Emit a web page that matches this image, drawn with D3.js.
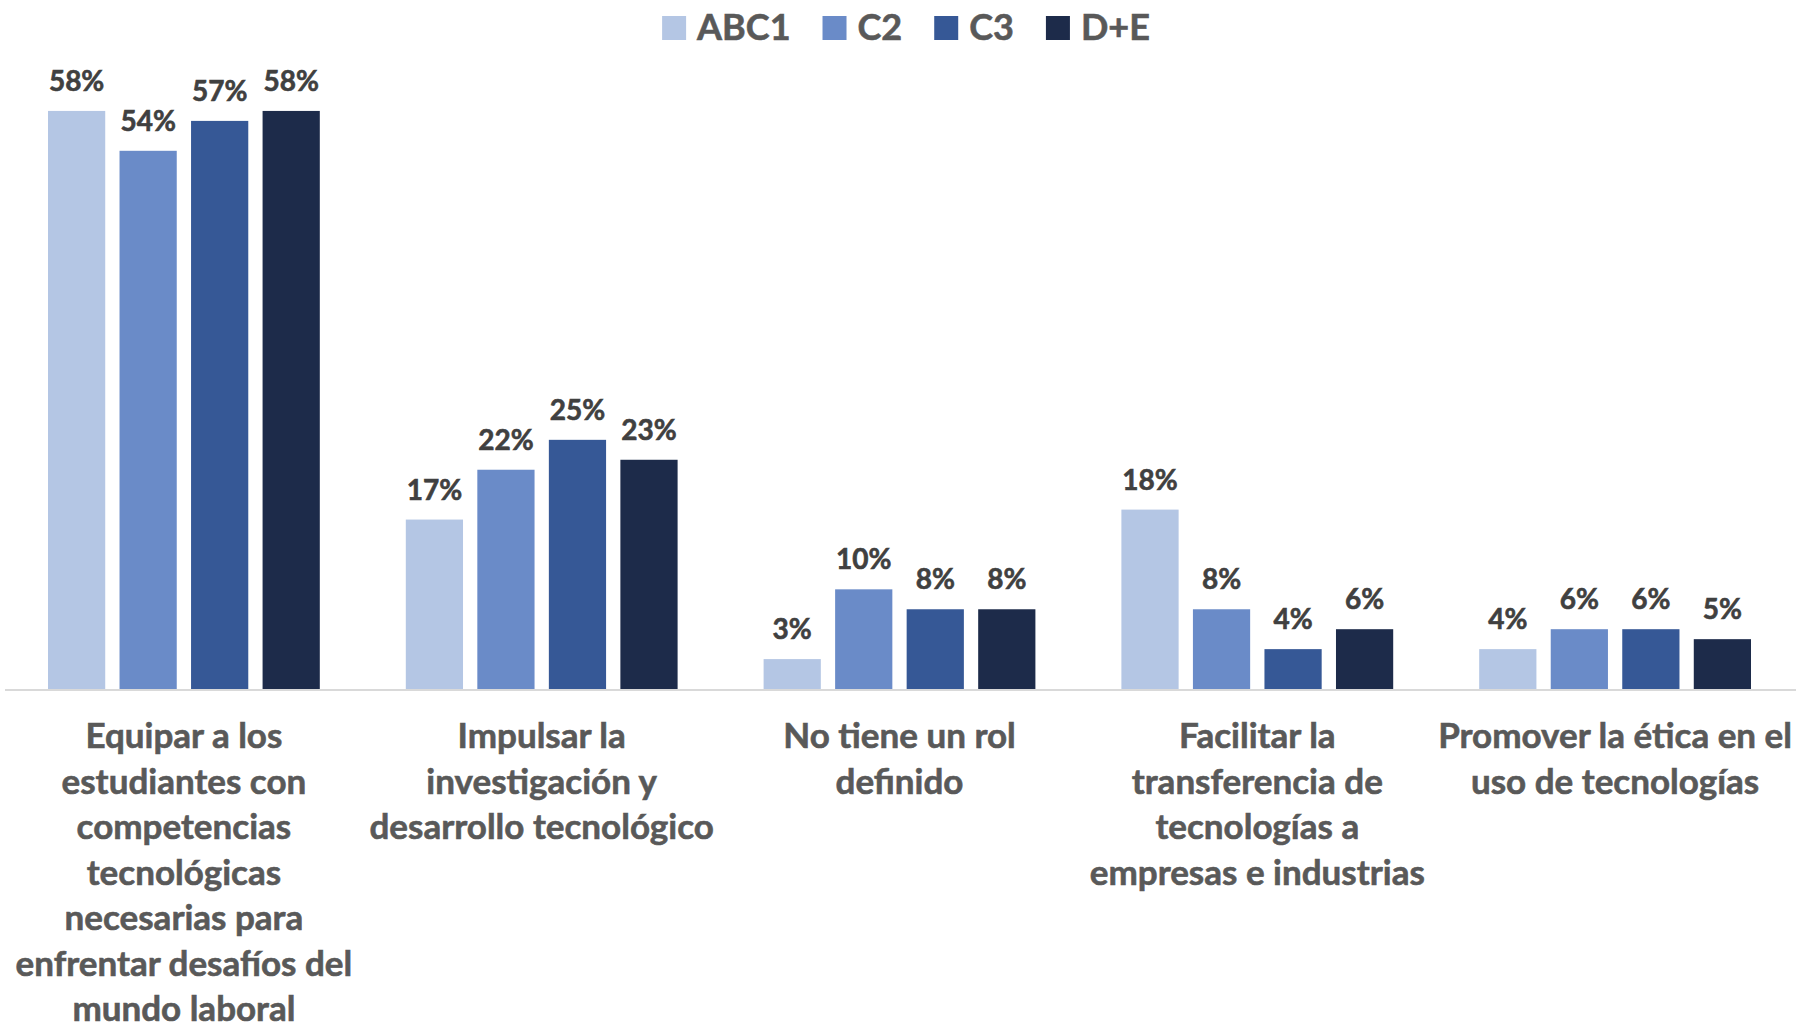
<!DOCTYPE html>
<meta charset="utf-8">
<script src="https://cdn.jsdelivr.net/npm/d3@7"></script>
<style>
  body { margin: 0; background: #fff; }
  svg { display: block; font-family: Lato, "Open Sans", sans-serif; font-weight: bold; }
  svg text { stroke-width: 0.6px; }
</style>
<div id="chart"></div>
<script>

// data
var categories = ["Equipar", "Impulsar", "NoRol", "Facilitar", "Promover"];
var categoryLines = [
  ["Equipar a los", "estudiantes con", "competencias", "tecnológicas", "necesarias para", "enfrentar desafíos del", "mundo laboral"],
  ["Impulsar la", "investigación y", "desarrollo tecnológico"],
  ["No tiene un rol", "definido"],
  ["Facilitar la", "transferencia de", "tecnologías a", "empresas e industrias"],
  ["Promover la ética en el", "uso de tecnologías"]
];
var seriesNames = ["ABC1", "C2", "C3", "D+E"];
var abc1 = [58, 17, 3, 18, 4];
var c2   = [54, 22, 10, 8, 6];
var c3   = [57, 25, 8, 4, 6];
var de   = [58, 23, 8, 6, 5];
var seriesColors = ["#B4C6E4", "#6A8BC8", "#365896", "#1D2B4A"];

var values = [abc1, c2, c3, de];

var width = 1798, height = 1027;
var plot = {left: 5, right: 1794, top: 91, bottom: 689};

var svg = d3.select("#chart")
  .append("svg")
    .attr("width", width)
    .attr("height", height);

var x0 = d3.scaleBand()
  .domain(categories)
  .range([plot.left, plot.right]);

var x1 = d3.scaleBand()
  .domain(seriesNames)
  .range([43, x0.bandwidth() - 43])
  .paddingInner(0.2);

var y = d3.scaleLinear()
  .domain([0, 60])
  .range([plot.bottom, plot.top]);

var color = d3.scaleOrdinal()
  .domain(seriesNames)
  .range(seriesColors);

// bars
var rows = [];
categories.forEach(function(c, i) {
  seriesNames.forEach(function(s, j) {
    rows.push({cat: c, series: s, value: values[j][i]});
  });
});

svg.append("g")
  .selectAll("rect")
  .data(rows)
  .enter()
  .append("rect")
    .attr("x", function(d) { return x0(d.cat) + x1(d.series); })
    .attr("y", function(d) { return y(d.value); })
    .attr("width", x1.bandwidth())
    .attr("height", function(d) { return y(0) - y(d.value); })
    .attr("fill", function(d) { return color(d.series); });

// value labels
svg.append("g")
  .selectAll("text")
  .data(rows)
  .enter()
  .append("text")
    .attr("x", function(d) { return x0(d.cat) + x1(d.series) + x1.bandwidth() / 2; })
    .attr("y", function(d) { return y(d.value) - 20; })
    .attr("text-anchor", "middle")
    .attr("fill", "#404040")
    .attr("stroke", "#404040")
    .style("font-size", "28px")
    .text(function(d) { return d.value + "%"; });

// baseline
svg.append("line")
  .attr("x1", plot.left)
  .attr("x2", 1796)
  .attr("y1", y(0) + 1)
  .attr("y2", y(0) + 1)
  .attr("stroke", "#D9D9D9")
  .attr("stroke-width", 2);

// category labels
var catG = svg.append("g")
  .selectAll("text")
  .data(categories)
  .enter()
  .append("text")
    .attr("text-anchor", "middle")
    .attr("fill", "#595959")
    .attr("stroke", "#595959")
    .style("font-size", "35px");

catG.selectAll("tspan")
  .data(function(d, i) { return categoryLines[i].map(function(l) { return {cat: d, line: l}; }); })
  .enter()
  .append("tspan")
    .attr("x", function(d) { return x0(d.cat) + x0.bandwidth() / 2; })
    .attr("y", function(d, k) { return 748 + k * 45.5; })
    .text(function(d) { return d.line; });

// legend
var legend = svg.append("g");
var cursor = 0;
seriesNames.forEach(function(s, i) {
  var item = legend.append("g").attr("transform", "translate(" + cursor + ",0)");
  item.append("rect")
    .attr("x", 0).attr("y", 16)
    .attr("width", 24).attr("height", 24)
    .attr("fill", color(s));
  var t = item.append("text")
    .attr("x", 35).attr("y", 40)
    .attr("fill", "#595959")
    .attr("stroke", "#595959")
    .style("font-size", "36px")
    .text(s);
  cursor += 35 + t.node().getComputedTextLength() + 32;
});
var legendWidth = cursor - 32;
legend.attr("transform", "translate(" + (906 - legendWidth / 2) + ",0)");

</script>
